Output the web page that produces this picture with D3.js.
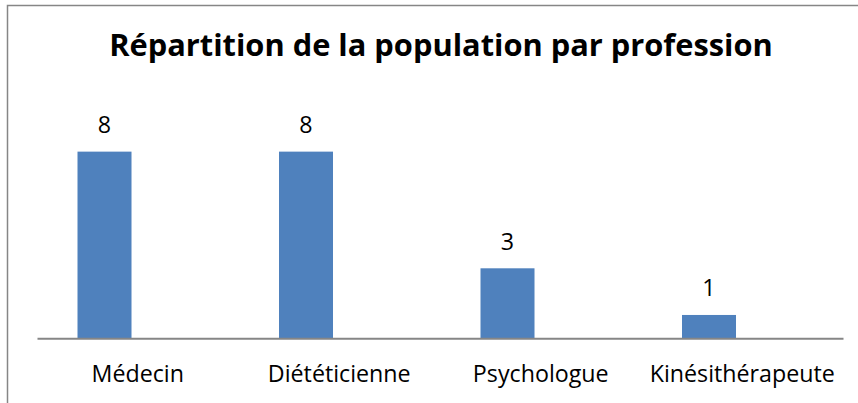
<!DOCTYPE html>
<html>
<head>
<meta charset="utf-8">
<script src="https://cdn.jsdelivr.net/npm/d3@7.9.0/dist/d3.min.js"></script>
<style>
  body { margin: 0; background: #fff; }
  svg { display: block; }
  text { font-variant-ligatures: none; }
</style>
</head>
<body>
<svg id="chart" width="858" height="403"></svg>
<script>
// data
const professions = ['Médecin', 'Diététicienne', 'Psychologue', 'Kinésithérapeute'];
const effectifs = [8, 8, 3, 1];
const yMax = 9;
const title = 'Répartition de la population par profession';

const font = '"Open Sans", sans-serif';
const svg = d3.select('#chart');

// chart frame (cropped on right and bottom)
svg.append('rect')
    .attr('x', 7.5).attr('y', 5.5)
    .attr('width', 900).attr('height', 500)
    .attr('fill', '#fff')
    .attr('stroke', '#868686')
    .attr('stroke-width', 1.5);

const x = d3.scaleBand().domain(professions).range([37, 843]);
const y = d3.scaleLinear().domain([0, yMax]).range([338.3, 128.3]);

// bars sit in the left half of each category (second series slot empty)
const barOffset = x.bandwidth() * 0.201;
const barWidth = x.bandwidth() * 0.268;

svg.selectAll('rect.bar').data(effectifs).enter().append('rect')
    .attr('class', 'bar')
    .attr('x', (d, i) => x(professions[i]) + barOffset)
    .attr('y', d => y(d))
    .attr('width', barWidth)
    .attr('height', d => y(0) - y(d))
    .attr('fill', '#4F81BD');

// value labels
svg.selectAll('text.val').data(effectifs).enter().append('text')
    .attr('class', 'val')
    .attr('x', (d, i) => x(professions[i]) + barOffset + barWidth / 2)
    .attr('y', d => y(d) - 18.5)
    .attr('text-anchor', 'middle')
    .attr('font-family', font)
    .attr('font-size', 21)
    .attr('fill', '#000')
    .text(d => d);

// category axis
const axis = svg.append('g')
    .attr('transform', `translate(0,${y(0)})`)
    .call(d3.axisBottom(x).tickSize(0).tickPadding(0));
axis.select('.domain').attr('stroke', '#868686').attr('stroke-width', 2);
axis.selectAll('text')
    .attr('font-family', font)
    .attr('font-size', 21)
    .attr('fill', '#000')
    .attr('dy', null)
    .attr('y', 43.4);

// title
const t = svg.append('text')
    .attr('x', 441)
    .attr('y', 56)
    .attr('text-anchor', 'middle')
    .attr('font-family', font)
    .attr('font-weight', 'bold')
    .attr('font-size', 26)
    .attr('fill', '#000')
    .text(title);
// fit title to its width in the picture
const w = t.node().getComputedTextLength();
t.attr('font-size', 26 * 664 / w);

// fit tick labels (Médecin ~92px wide)
const tl = axis.select('.tick text').node().getComputedTextLength();
const tickSize = 21 * 92.5 / tl;
axis.selectAll('text').attr('font-size', tickSize);
svg.selectAll('text.val').attr('font-size', tickSize);
</script>
</body>
</html>
